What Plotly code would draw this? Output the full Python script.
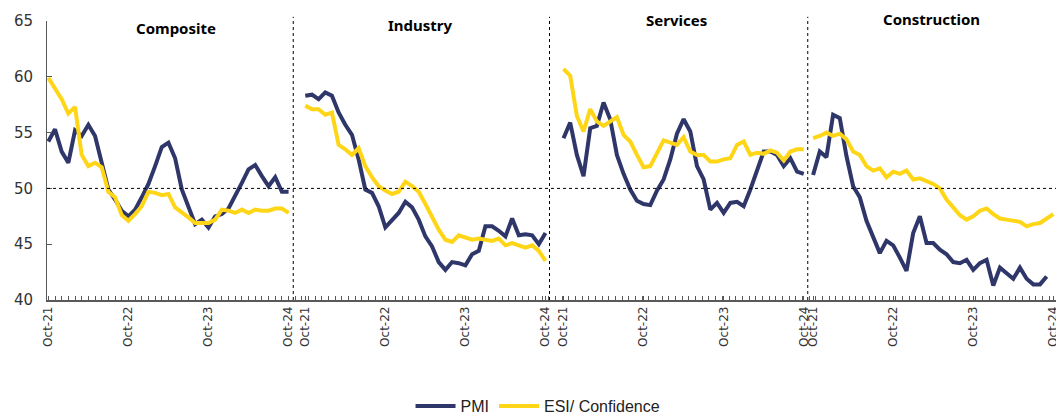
import numpy as np
import pandas as pd
import plotly.graph_objects as go

# ---- data ----
months = list(pd.date_range("2021-10-01", "2024-10-01", freq="MS").strftime("%b-%y"))
panels = ["Composite", "Industry", "Services", "Construction"]
tick_labels = ["Oct-21", "Oct-22", "Oct-23", "Oct-24"]

pmi_composite = [54.2, 55.3, 53.3, 52.3, 55.2, 54.7, 55.7, 54.7, 52.3, 49.9, 49.0, 48.0, 47.5,
                 48.1, 49.2, 50.4, 52.0, 53.7, 54.1, 52.7, 49.9, 48.4, 46.8, 47.2, 46.5, 47.5,
                 47.7, 48.2, 49.3, 50.5, 51.7, 52.1, 51.1, 50.2, 51.0, 49.7, 49.7]
esi_composite = [59.9, 59.0, 58.0, 56.7, 57.3, 53.0, 52.0, 52.3, 51.9, 49.7, 49.2, 47.6, 47.1,
                 47.7, 48.4, 49.7, 49.6, 49.4, 49.5, 48.3, 47.9, 47.4, 46.9, 46.9, 46.9, 47.2,
                 48.1, 48.0, 47.8, 48.1, 47.8, 48.1, 48.0, 48.0, 48.2, 48.2, 47.8]

pmi_industry = [58.3, 58.4, 58.0, 58.6, 58.3, 56.8, 55.7, 54.8, 52.6, 49.9, 49.6, 48.4, 46.5,
                47.1, 47.8, 48.8, 48.3, 47.2, 45.7, 44.8, 43.4, 42.7, 43.4, 43.3, 43.1, 44.1,
                44.4, 46.6, 46.6, 46.2, 45.7, 47.3, 45.8, 45.9, 45.8, 45.0, 46.0]
esi_industry = [57.4, 57.1, 57.1, 56.6, 56.8, 53.9, 53.5, 53.0, 53.6, 52.0, 51.0, 50.2, 49.8,
                49.5, 49.7, 50.6, 50.2, 49.7, 48.6, 47.4, 46.3, 45.4, 45.2, 45.8, 45.6, 45.4,
                45.5, 45.4, 45.3, 45.5, 44.9, 45.1, 44.9, 44.7, 44.9, 44.4, 43.5]

pmi_services = [54.5, 55.9, 53.0, 51.1, 55.4, 55.6, 57.7, 56.2, 53.0, 51.3, 49.9, 48.9, 48.6,
                48.5, 49.8, 50.8, 52.6, 54.9, 56.2, 55.1, 52.0, 50.8, 48.1, 48.7, 47.8, 48.7,
                48.8, 48.4, 49.9, 51.6, 53.3, 53.3, 53.0, 52.0, 52.7, 51.5, 51.3]
esi_services = [60.7, 60.1, 56.5, 55.1, 57.1, 56.0, 55.6, 56.0, 56.4, 54.8, 54.2, 53.0, 51.9,
                52.0, 53.2, 54.3, 54.1, 53.9, 54.6, 53.3, 53.0, 53.0, 52.4, 52.4, 52.6, 52.7,
                53.9, 54.2, 53.0, 53.2, 53.1, 53.4, 53.2, 52.5, 53.3, 53.5, 53.5]

pmi_construction = [51.2, 53.3, 52.8, 56.6, 56.3, 52.9, 50.2, 49.2, 47.1, 45.7, 44.2, 45.3,
                    44.9, 43.8, 42.6, 46.0, 47.5, 45.1, 45.1, 44.5, 44.1, 43.4, 43.3, 43.6,
                    42.7, 43.3, 43.6, 41.3, 42.9, 42.4, 41.9, 42.9, 41.9, 41.4, 41.4, 42.1]
esi_construction = [54.5, 54.7, 55.0, 54.7, 54.9, 54.4, 53.3, 53.0, 52.0, 51.6, 51.8, 51.0,
                    51.5, 51.3, 51.6, 50.8, 50.9, 50.6, 50.4, 50.0, 49.0, 48.3, 47.6, 47.2,
                    47.5, 48.0, 48.2, 47.7, 47.3, 47.2, 47.1, 47.0, 46.6, 46.8, 46.9, 47.3, 47.7]

pmi_series = [pmi_composite, pmi_industry, pmi_services, pmi_construction]
esi_series = [esi_composite, esi_industry, esi_services, esi_construction]

# ---- layout constants ----
panel_offsets = [0, 38.5, 77.2, 114.6]
separators = [36.7, 75.1, 113.8]
# title position: x offset within panel (months), y in paper units
title_pos = [(19.2, 0.975), (17.2, 0.985), (16.9, 1.003), (17.7, 1.007)]
NAVY = "#2F3669"
YELLOW = "#FFD617"

fig = go.Figure()
for p, name in enumerate(panels):
    off = panel_offsets[p]
    pm = pmi_series[p]
    es = esi_series[p]
    fig.add_trace(go.Scatter(
        x=off + np.arange(len(pm)), y=pm, mode="lines", name="PMI",
        line=dict(color=NAVY, width=4), legendgroup="pmi", showlegend=(p == 0)))
    fig.add_trace(go.Scatter(
        x=off + np.arange(len(es)), y=es, mode="lines", name="ESI/ Confidence",
        line=dict(color=YELLOW, width=4), legendgroup="esi", showlegend=(p == 0)))
    tx, ty = title_pos[p]
    fig.add_annotation(x=off + tx, y=ty, xref="x", yref="paper", text="<b>%s</b>" % name,
                       showarrow=False, yanchor="middle",
                       font=dict(family="Noto Sans", size=15, color="#000"))

tickvals, ticktext = [], []
for off in panel_offsets:
    for i, lab in enumerate(tick_labels):
        tickvals.append(off + 12 * i)
        ticktext.append(lab)

# dashed reference lines
fig.add_shape(type="line", xref="paper", yref="y", x0=0, x1=1, y0=50, y1=50,
              line=dict(color="#000", width=1, dash="3px,3px"))
for s in separators:
    fig.add_shape(type="line", xref="x", yref="paper", x0=s, x1=s, y0=0, y1=1.015,
                  line=dict(color="#000", width=1, dash="3px,3px"))

fig.update_layout(
    width=1056, height=414,
    margin=dict(l=47, r=0, t=21, b=114, autoexpand=False),
    paper_bgcolor="white", plot_bgcolor="white",
    showlegend=True,
    legend=dict(orientation="h", xref="container", yref="container",
                x=0.5095, xanchor="center", y=0.019, yanchor="middle",
                font=dict(family="Liberation Sans Narrow, Liberation Sans", size=16, color="#222"),
                itemwidth=40, tracegroupgap=0),
    xaxis=dict(range=[-0.2, 151.0], tickmode="array", tickvals=tickvals, ticktext=ticktext,
               tickangle=-90, ticks="inside", ticklen=4, tickcolor="#595959",
               showline=True, linecolor="#595959", linewidth=1.5, showgrid=False,
               zeroline=False, automargin=False, ticklabeloverflow="allow",
               tickfont=dict(family="DejaVu Sans", size=12, color="#333"),
               minor=dict(ticks="inside", ticklen=4, dtick=1, tick0=0, tickcolor="#595959",
                          showgrid=False)),
    yaxis=dict(range=[40, 65], dtick=5, ticks="inside", ticklen=5, tickcolor="#595959",
               showline=True, linecolor="#595959", linewidth=1, showgrid=False,
               zeroline=False, ticklabelstandoff=10, automargin=False,
               tickfont=dict(family="DejaVu Sans", size=15, color="#333")),
)

fig.write_html("out.html", config={"displayModeBar": False},
               post_script="document.body.style.margin='0';document.body.style.overflow='hidden';")
